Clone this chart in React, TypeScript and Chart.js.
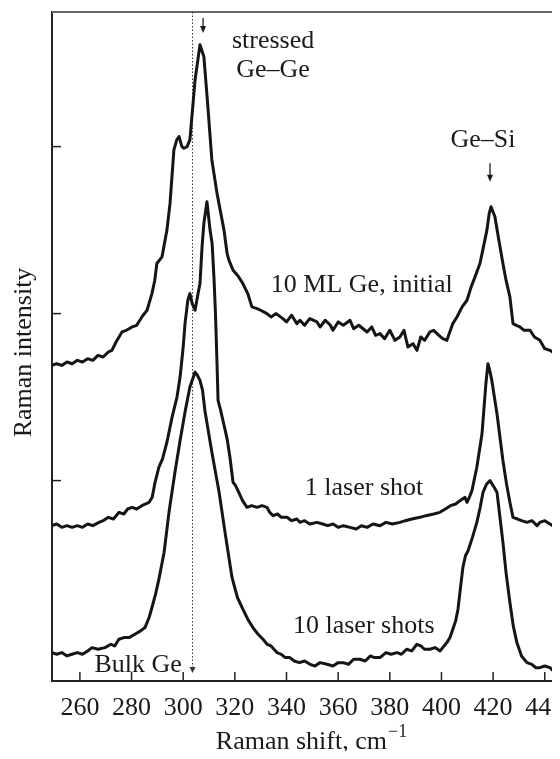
import { useEffect, useRef } from 'react';
import { Chart, registerables } from 'chart.js';

Chart.register(...registerables);

// ---- axes ----
const X_MIN = 249.2;
const X_MAX = 445.9;
const Y_MIN = 0;
const Y_MAX = 4.006;
const X_TICKS = [260, 280, 300, 320, 340, 360, 380, 400, 420, 440];
const Y_TICKS = [1.2, 2.2, 3.2];
const X_TITLE = 'Raman shift, cm';
const X_TITLE_SUP = '\u22121';
const Y_TITLE = 'Raman intensity';

// ---- spectrum: 10 ML Ge, initial ----
const INITIAL_SHIFT = [
  249.2, 251, 253, 255, 257, 259, 261, 263, 265, 267, 269, 271, 272.4, 274, 276.3, 278, 280.2, 282, 284, 286,
  287.9, 289, 289.8, 291.8, 293.7, 294.9, 296.4, 297.5, 298.4, 299.5, 300.3, 301.5, 302.6, 304.6, 306.5, 308.0,
  309.5, 311.1, 313.1, 315.8, 317.0, 317.7, 319.3, 321, 323.1, 325, 326.6, 328.6, 330, 332.4, 334, 336, 338.6,
  340, 342, 344, 345.2, 347, 349, 351.8, 353, 355, 357, 358.0, 360, 362, 364.6, 366, 368, 371.2, 373, 374.5,
  376.2, 378, 380, 382, 383.9, 385.5, 387, 389, 390.5, 392, 393.5, 395.5, 397, 399, 400.5, 402.1, 404.4, 406,
  408, 409.9, 411.5, 413, 414.9, 416, 417.6, 418.5, 419.2, 420.7, 422, 423.8, 425, 426.5, 427.7, 429, 430.4,
  432, 434.3, 436, 438.1, 440, 442, 444, 446,
];
const INITIAL_INTENSITY = [
  1.89, 1.90, 1.89, 1.91, 1.90, 1.92, 1.91, 1.93, 1.92, 1.95, 1.94, 1.97, 1.98, 2.03, 2.09, 2.10, 2.12, 2.13, 2.18, 2.22,
  2.32, 2.40, 2.50, 2.54, 2.70, 2.86, 3.18, 3.24, 3.26, 3.20, 3.19, 3.20, 3.24, 3.60, 3.81, 3.74,
  3.45, 3.12, 2.92, 2.70, 2.56, 2.52, 2.46, 2.43, 2.38, 2.32, 2.24, 2.23, 2.22, 2.20, 2.18, 2.20, 2.17,
  2.15, 2.19, 2.14, 2.16, 2.13, 2.17, 2.15, 2.12, 2.16, 2.13, 2.10, 2.15, 2.13, 2.16, 2.11, 2.13, 2.09, 2.12, 2.07,
  2.08, 2.05, 2.10, 2.04, 2.06, 2.10, 2.00, 2.02, 1.98, 2.06, 2.04, 2.09, 2.10, 2.07, 2.05, 2.04, 2.14, 2.18,
  2.24, 2.28, 2.36, 2.42, 2.50, 2.58, 2.70, 2.80, 2.84, 2.78, 2.66, 2.50, 2.40, 2.30, 2.14, 2.13, 2.12,
  2.10, 2.10, 2.06, 2.04, 1.99, 1.98, 1.96, 1.97,
];

// ---- spectrum: 1 laser shot ----
const ONE_SHOT_SHIFT = [
  249.2, 251, 253, 255, 257, 259, 261, 263, 265, 267.4, 269, 271, 273, 275.1, 277, 278.5, 280.2, 282, 284, 286.8,
  288, 289.1, 290.6, 292, 293.7, 295.7, 297.6, 298.8, 300, 300.7, 301.8, 302.6, 303.5, 304.6, 305.5, 306.5,
  307.3, 308.0, 309.2, 310.4, 311.2, 311.9, 312.5, 313.1, 313.5, 314.5, 315.4, 317, 318.1, 319.3, 320.3, 321.2,
  323, 324.7, 326.5, 328.6, 330.5, 332.4, 333.5, 334.8, 336.5, 338, 340.2, 342, 344, 345.2, 347, 349, 351.8,
  354, 356, 358, 360, 362, 364.6, 367, 369, 371.2, 373.5, 376.2, 378.5, 381, 383.9, 386, 388.5, 391.7, 394,
  397, 399.4, 401.5, 403.5, 405.5, 407.2, 409.1, 409.9, 410.8, 411.8, 413.7, 415.7, 417.2, 418.0, 418.7, 419.5,
  421.5, 423.8, 425.2, 426.5, 427.7, 429.5, 431, 433.1, 435, 437, 438.1, 440, 442, 444, 445.9,
];
const ONE_SHOT_INTENSITY = [
  0.93, 0.94, 0.92, 0.93, 0.92, 0.93, 0.92, 0.94, 0.93, 0.95, 0.96, 0.98, 0.97, 1.01, 1.00, 1.03, 1.04, 1.03, 1.05, 1.07,
  1.10, 1.19, 1.28, 1.33, 1.43, 1.58, 1.70, 1.82, 2.00, 2.14, 2.28, 2.32, 2.26, 2.22, 2.30, 2.38,
  2.60, 2.74, 2.87, 2.70, 2.62, 2.42, 2.20, 1.90, 1.68, 1.62, 1.56, 1.45, 1.34, 1.19, 1.17, 1.14,
  1.08, 1.04, 1.05, 1.04, 1.05, 1.04, 1.01, 0.99, 1.00, 0.98, 0.98, 0.96, 0.97, 0.95, 0.96, 0.94, 0.95,
  0.94, 0.93, 0.94, 0.92, 0.93, 0.92, 0.91, 0.93, 0.92, 0.94, 0.93, 0.95, 0.94, 0.95, 0.96, 0.97, 0.98, 0.99,
  1.00, 1.01, 1.03, 1.05, 1.06, 1.08, 1.10, 1.07, 1.10, 1.14, 1.28, 1.48, 1.78, 1.90, 1.86, 1.80,
  1.60, 1.32, 1.18, 1.07, 0.98, 0.97, 0.96, 0.95, 0.96, 0.93, 0.95, 0.96, 0.94, 0.92, 0.90,
];

// ---- spectrum: 10 laser shots ----
const TEN_SHOTS_SHIFT = [
  249.2, 251, 253, 255, 256.9, 259, 261, 263, 264.7, 267, 269.7, 272, 273.5, 275.1, 277, 279, 281.3, 283.5, 285.2,
  286.8, 287.9, 289.3, 290.6, 292.6, 294.5, 296.8, 298.8, 300.7, 302.6, 304.6, 305.5, 306.5, 307.5, 308.4, 311.1,
  313.9, 316.2, 318.9, 321, 323.1, 325, 327, 329, 330.9, 332.5, 334, 336.3, 338, 339.5, 341.3, 343, 345, 347,
  349.1, 351, 353, 355.7, 358, 360, 361.9, 364, 366, 368.4, 370.5, 372.5, 374, 376.2, 378.5, 380.5, 382.8, 384.5,
  386.5, 388.5, 390.5, 392, 393.5, 395.5, 397.5, 399.5, 401, 402.1, 403.3, 404.4, 405.5, 406.4, 407.3, 408.3,
  409.3, 410.3, 412, 413.7, 415, 416.1, 417.5, 418.8, 420, 421.5, 422.5, 423.8, 425, 426.5, 427.8, 429.2, 431,
  433.1, 435, 436.5, 438.1, 440, 442, 444, 445.9,
];
const TEN_SHOTS_INTENSITY = [
  0.17, 0.16, 0.17, 0.15, 0.16, 0.17, 0.16, 0.18, 0.20, 0.19, 0.20, 0.22, 0.21, 0.25, 0.26, 0.26, 0.28, 0.30, 0.32,
  0.38, 0.44, 0.52, 0.61, 0.77, 1.01, 1.25, 1.44, 1.61, 1.76, 1.85, 1.83, 1.80, 1.74, 1.62, 1.37,
  1.13, 0.89, 0.62, 0.50, 0.43, 0.37, 0.32, 0.28, 0.25, 0.22, 0.21, 0.17, 0.16, 0.14, 0.14, 0.12, 0.11, 0.12,
  0.10, 0.09, 0.11, 0.10, 0.09, 0.11, 0.11, 0.10, 0.13, 0.13, 0.12, 0.15, 0.14, 0.14, 0.17, 0.16, 0.17, 0.16,
  0.19, 0.18, 0.22, 0.21, 0.19, 0.19, 0.20, 0.18, 0.21, 0.23, 0.26, 0.31, 0.36, 0.43, 0.55, 0.68,
  0.75, 0.78, 0.86, 0.95, 1.04, 1.13, 1.18, 1.20, 1.17, 1.13, 1.00, 0.83, 0.65, 0.47, 0.33, 0.23, 0.15,
  0.11, 0.10, 0.08, 0.08, 0.09, 0.08, 0.05, 0.02,
];

// ---- annotations (data coordinates) ----
const BULK_GE_SHIFT = 303.4;
const BULK_ARROW_TIP = 0.048;
const STRESSED_SHIFT = 307.7;
const STRESSED_ARROW = [3.97, 3.88];
const GESI_SHIFT = 418.8;
const GESI_ARROW = [3.10, 2.99];

const LABELS = [
  { text: 'stressed', x: 334.8, y: 3.79, align: 'center' },
  { text: 'Ge\u2013Ge', x: 334.8, y: 3.617, align: 'center' },
  { text: 'Ge\u2013Si', x: 416.1, y: 3.198, align: 'center' },
  { text: '10 ML Ge, initial', x: 404.4, y: 2.329, align: 'right' },
  { text: '1 laser shot', x: 347.1, y: 1.114, align: 'left' },
  { text: '10 laser shots', x: 342.5, y: 0.287, align: 'left' },
  { text: 'Bulk Ge', x: 299.5, y: 0.054, align: 'right' },
];

const FONT = '"Liberation Serif", "Times New Roman", serif';
const INK = '#1a1a1a';

function toPoints(xs: number[], ys: number[]) {
  return xs.map((x, i) => ({ x, y: ys[i] }));
}

function arrowDown(ctx: CanvasRenderingContext2D, x: number, y0: number, y1: number) {
  ctx.beginPath();
  ctx.moveTo(x, y0);
  ctx.lineTo(x, y1 - 5);
  ctx.stroke();
  ctx.beginPath();
  ctx.moveTo(x - 3, y1 - 7);
  ctx.lineTo(x + 3, y1 - 7);
  ctx.lineTo(x, y1);
  ctx.closePath();
  ctx.fill();
}

const overlayPlugin = {
  id: 'overlay',
  beforeDatasetsDraw(chart: any) {
    const { ctx, chartArea: ca, scales } = chart;
    const xs = scales.x;
    const ys = scales.y;
    ctx.save();
    // top frame line
    ctx.strokeStyle = '#666';
    ctx.lineWidth = 2;
    ctx.beginPath();
    ctx.moveTo(ca.left, ca.top);
    ctx.lineTo(ca.right, ca.top);
    ctx.stroke();
    // inward tick marks
    ctx.strokeStyle = '#222';
    ctx.lineWidth = 1.5;
    xs.ticks.forEach((t: any) => {
      const px = xs.getPixelForValue(t.value);
      ctx.beginPath();
      ctx.moveTo(px, ca.bottom);
      ctx.lineTo(px, ca.bottom - 9);
      ctx.stroke();
    });
    ys.ticks.forEach((t: any) => {
      const py = ys.getPixelForValue(t.value);
      ctx.beginPath();
      ctx.moveTo(ca.left, py);
      ctx.lineTo(ca.left + 9, py);
      ctx.stroke();
    });
    // dotted bulk Ge line
    const bx = Math.round(xs.getPixelForValue(BULK_GE_SHIFT)) + 0.5;
    const tip = ys.getPixelForValue(BULK_ARROW_TIP);
    ctx.strokeStyle = '#333';
    ctx.fillStyle = '#333';
    ctx.lineWidth = 1;
    ctx.setLineDash([1.5, 2]);
    ctx.beginPath();
    ctx.moveTo(bx, ca.top);
    ctx.lineTo(bx, tip - 5);
    ctx.stroke();
    ctx.setLineDash([]);
    ctx.beginPath();
    ctx.moveTo(bx - 3, tip - 6);
    ctx.lineTo(bx + 3, tip - 6);
    ctx.lineTo(bx, tip);
    ctx.closePath();
    ctx.fill();
    ctx.restore();
  },
  afterDatasetsDraw(chart: any) {
    const { ctx, chartArea: ca, scales } = chart;
    const xs = scales.x;
    const ys = scales.y;
    ctx.save();
    ctx.strokeStyle = INK;
    ctx.fillStyle = INK;
    ctx.lineWidth = 1.3;
    arrowDown(ctx, xs.getPixelForValue(STRESSED_SHIFT), ys.getPixelForValue(STRESSED_ARROW[0]), ys.getPixelForValue(STRESSED_ARROW[1]));
    arrowDown(ctx, xs.getPixelForValue(GESI_SHIFT), ys.getPixelForValue(GESI_ARROW[0]), ys.getPixelForValue(GESI_ARROW[1]));

    ctx.font = `26px ${FONT}`;
    ctx.textBaseline = 'alphabetic';
    LABELS.forEach((l) => {
      ctx.textAlign = l.align as CanvasTextAlign;
      ctx.fillText(l.text, xs.getPixelForValue(l.x), ys.getPixelForValue(l.y));
    });

    // x-axis title with superscript
    ctx.textAlign = 'left';
    ctx.font = `26px ${FONT}`;
    const mainW = ctx.measureText(X_TITLE).width;
    ctx.font = `18px ${FONT}`;
    const supW = ctx.measureText(X_TITLE_SUP).width;
    const cx = (ca.left + ca.right) / 2 + 5;
    const startX = cx - (mainW + supW) / 2;
    const base = ca.bottom + 68;
    ctx.font = `26px ${FONT}`;
    ctx.fillText(X_TITLE, startX, base);
    ctx.font = `18px ${FONT}`;
    ctx.fillText(X_TITLE_SUP, startX + mainW + 1, base - 12);

    // y-axis title
    ctx.font = `26px ${FONT}`;
    ctx.translate(16, (ca.top + ca.bottom) / 2 + 6);
    ctx.rotate(-Math.PI / 2);
    ctx.textAlign = 'center';
    ctx.textBaseline = 'middle';
    ctx.fillText(Y_TITLE, 0, 0);
    ctx.restore();
  },
};

export default function App() {
  const ref = useRef<HTMLCanvasElement | null>(null);
  useEffect(() => {
    if (!ref.current) return;
    const lineStyle = {
      borderColor: '#151515',
      borderWidth: 3,
      pointRadius: 0,
      fill: false,
      tension: 0,
      borderJoinStyle: 'round' as const,
      borderCapStyle: 'round' as const,
    };
    const chart = new Chart(ref.current, {
      type: 'line',
      data: {
        datasets: [
          { label: '10 ML Ge, initial', data: toPoints(INITIAL_SHIFT, INITIAL_INTENSITY), ...lineStyle },
          { label: '1 laser shot', data: toPoints(ONE_SHOT_SHIFT, ONE_SHOT_INTENSITY), ...lineStyle },
          { label: '10 laser shots', data: toPoints(TEN_SHOTS_SHIFT, TEN_SHOTS_INTENSITY), ...lineStyle },
        ],
      },
      options: {
        animation: false,
        responsive: false,
        devicePixelRatio: 1,
        layout: { padding: { top: 4, left: 0, right: 0, bottom: 0 } },
        plugins: { legend: { display: false }, tooltip: { enabled: false } },
        scales: {
          x: {
            type: 'linear',
            min: X_MIN,
            max: X_MAX,
            afterBuildTicks: (s: any) => {
              s.ticks = X_TICKS.map((v) => ({ value: v }));
            },
            afterFit: (s: any) => {
              s.height = 70;
              s.paddingLeft = 0;
              s.paddingRight = 0;
            },
            grid: { display: false, drawTicks: false },
            border: { display: true, color: '#222', width: 2 },
            ticks: {
              color: INK,
              font: { family: FONT, size: 26 },
              padding: 12,
              maxRotation: 0,
              autoSkip: false,
              callback: (v: any) => String(v),
            },
          },
          y: {
            type: 'linear',
            min: Y_MIN,
            max: Y_MAX,
            afterBuildTicks: (s: any) => {
              s.ticks = Y_TICKS.map((v) => ({ value: v }));
            },
            afterFit: (s: any) => {
              s.width = 44;
              s.paddingTop = 0;
              s.paddingBottom = 0;
            },
            grid: { display: false, drawTicks: false },
            border: { display: true, color: '#222', width: 2 },
            ticks: { display: false },
          },
        },
      },
      plugins: [overlayPlugin],
    });
    return () => chart.destroy();
  }, []);
  return <canvas ref={ref} width={552} height={743} style={{ display: 'block' }} />;
}
